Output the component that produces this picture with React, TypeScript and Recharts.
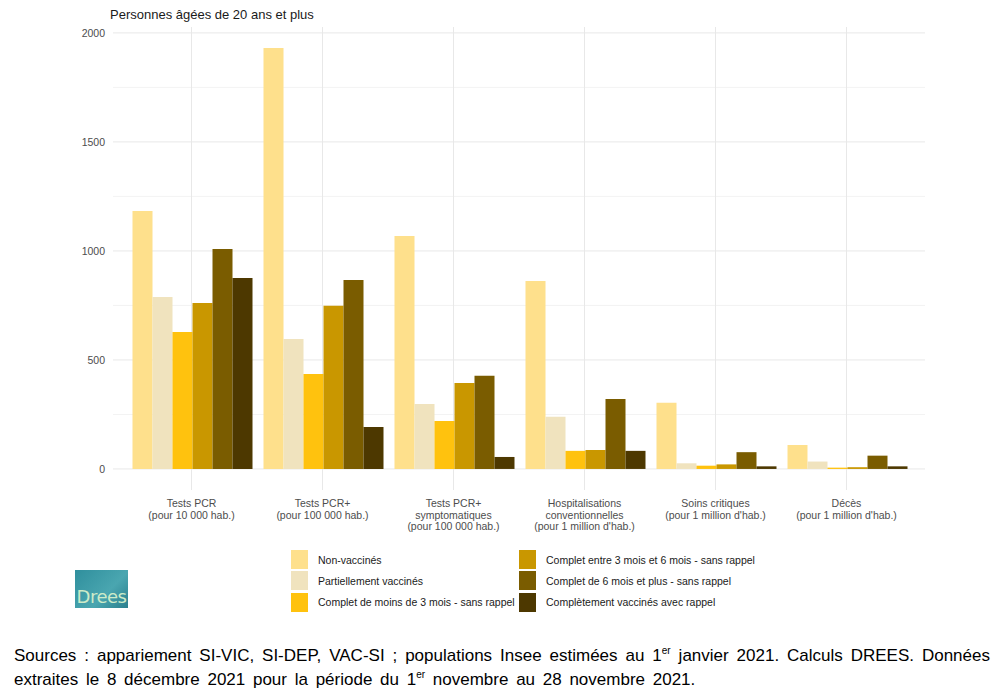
import { Bar, BarChart, CartesianGrid, XAxis, YAxis } from 'recharts';

const categories = [
  'Tests PCR\n(pour 10 000 hab.)',
  'Tests PCR+\n(pour 100 000 hab.)',
  'Tests PCR+\nsymptomatiques\n(pour 100 000 hab.)',
  "Hospitalisations\nconventionnelles\n(pour 1 million d'hab.)",
  "Soins critiques\n(pour 1 million d'hab.)",
  "Décès\n(pour 1 million d'hab.)",
];

const nonVaccines = [1183, 1931, 1069, 862, 304, 110];
const partiellement = [789, 596, 298, 239, 26, 34];
const moins3Mois = [628, 436, 220, 83, 15, 6];
const entre3et6Mois = [761, 748, 394, 87, 21, 8];
const plus6Mois = [1009, 867, 427, 321, 77, 61];
const avecRappel = [876, 193, 55, 83, 12, 12];

const yTicks = [0, 500, 1000, 1500, 2000];
const yMinor = [250, 750, 1250, 1750];

const SERIES = [
  { key: 'nonvac', name: 'Non-vaccinés', color: '#FEE08C', values: nonVaccines },
  { key: 'partiel', name: 'Partiellement vaccinés', color: '#F0E3BE', values: partiellement },
  { key: 'moins3', name: 'Complet de moins de 3 mois - sans rappel', color: '#FFC20E', values: moins3Mois },
  { key: 'entre3', name: 'Complet entre 3 mois et 6 mois - sans rappel', color: '#C99700', values: entre3et6Mois },
  { key: 'plus6', name: 'Complet de 6 mois et plus - sans rappel', color: '#7A5C00', values: plus6Mois },
  { key: 'rappel', name: 'Complètement vaccinés avec rappel', color: '#4D3800', values: avecRappel },
];

const data = categories.map((cat, i) => {
  const row: Record<string, string | number> = { cat };
  SERIES.forEach((s) => {
    row[s.key] = s.values[i];
  });
  return row;
});

const FONT = '"Liberation Sans", Arial, sans-serif';

function CatTick({ x, y, payload }: any) {
  const lines = String(payload.value).split('\n');
  return (
    <text x={x} y={y} textAnchor='middle' fill='#4d4d4d' fontSize={10.5} fontFamily={FONT}>
      {lines.map((l, i) => (
        <tspan key={i} x={x} dy={i === 0 ? 9 : 11.5}>
          {l}
        </tspan>
      ))}
    </text>
  );
}

function ValTick({ x, y, payload }: any) {
  return (
    <text x={x} y={y} dy={4} textAnchor='end' fill='#4d4d4d' fontSize={10.5} fontFamily={FONT}>
      {payload.value}
    </text>
  );
}

export default function App() {
  const col1 = SERIES.slice(0, 3);
  const col2 = SERIES.slice(3);
  return (
    <div
      style={{
        position: 'absolute',
        left: 0,
        top: 0,
        width: 1000,
        height: 696,
        background: '#fff',
        fontFamily: FONT,
      }}>
      <div style={{ position: 'absolute', left: 110, top: 7, fontSize: 13, color: '#1a1a1a' }}>
        Personnes âgées de 20 ans et plus
      </div>
      <div style={{ position: 'absolute', left: 0, top: 0 }}>
        <BarChart
          width={1000}
          height={540}
          data={data}
          margin={{ top: 27, right: 75, bottom: 0, left: 0 }}
          barCategoryGap={6.5}
          barGap={0}>
          <CartesianGrid horizontalValues={yMinor} vertical={false} stroke='#f3f3f3' />
          <CartesianGrid horizontalValues={yTicks} syncWithTicks stroke='#e8e8e8' />
          <XAxis
            dataKey='cat'
            interval={0}
            axisLine={false}
            tickLine={false}
            height={50}
            padding={{ left: 13, right: 13 }}
            tick={<CatTick />}
          />
          <YAxis
            type='number'
            domain={[-96.5, 2027]}
            ticks={yTicks}
            width={113}
            axisLine={false}
            tickLine={false}
            tickSize={0}
            tickMargin={8}
            tick={<ValTick />}
          />
          {SERIES.map((s) => (
            <Bar key={s.key} dataKey={s.key} name={s.name} fill={s.color} isAnimationActive={false} />
          ))}
        </BarChart>
      </div>

      {/* légende */}
      {[col1, col2].map((col, ci) => (
        <div key={ci} style={{ position: 'absolute', left: ci === 0 ? 291 : 519, top: 549 }}>
          {col.map((s) => (
            <div key={s.key} style={{ display: 'flex', alignItems: 'center', height: 21.3 }}>
              <div style={{ width: 17, height: 19, background: s.color }} />
              <span style={{ marginLeft: 10, fontSize: 10.5, color: '#1a1a1a' }}>{s.name}</span>
            </div>
          ))}
        </div>
      ))}

      {/* logo */}
      <div
        style={{
          position: 'absolute',
          left: 75,
          top: 570,
          width: 53,
          height: 38,
          background: 'linear-gradient(135deg, #2f8f9d, #4aa6b0 60%, #2a7f8d)',
          color: '#cdebc8',
          fontSize: 18,
          fontFamily: '"DejaVu Sans", sans-serif',
          display: 'flex',
          alignItems: 'flex-end',
          justifyContent: 'center',
          lineHeight: '22px',
          letterSpacing: -0.5,
        }}>
        Drees
      </div>

      {/* sources */}
      <div
        style={{
          position: 'absolute',
          left: 14,
          top: 644,
          width: 976,
          fontSize: 17,
          lineHeight: '24px',
          color: '#000',
          fontFamily: FONT,
        }}>
        <div style={{ textAlign: 'justify', textAlignLast: 'justify', whiteSpace: 'nowrap' }}>
          Sources : appariement SI-VIC, SI-DEP, VAC-SI ; populations Insee estimées au 1
          <sup style={{ fontSize: 10, lineHeight: 0 }}>er</sup> janvier 2021. Calculs DREES. Données
        </div>
        <div style={{ wordSpacing: 3 }}>
          extraites le 8 décembre 2021 pour la période du 1<sup style={{ fontSize: 10, lineHeight: 0 }}>er</sup>{' '}
          novembre au 28 novembre 2021.
        </div>
      </div>
    </div>
  );
}
